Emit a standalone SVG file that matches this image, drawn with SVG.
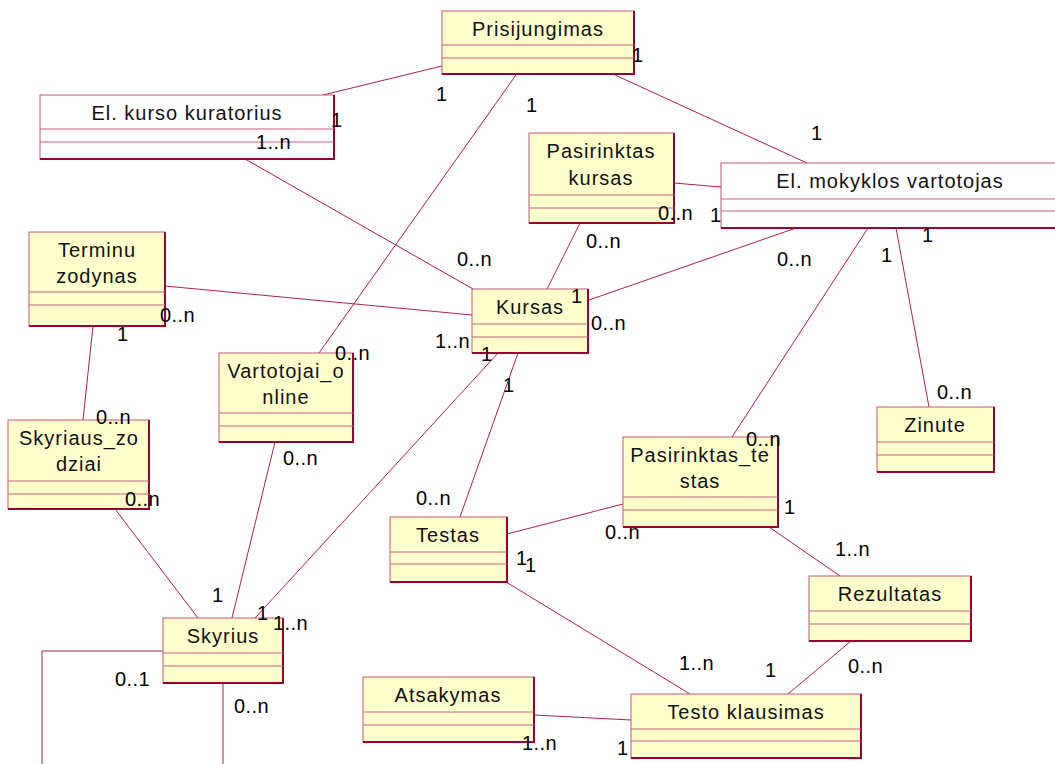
<svg xmlns="http://www.w3.org/2000/svg" width="1055" height="764" viewBox="0 0 1055 764">
  <style>
    .box { fill: #FFFFCC; stroke: #C0587A; stroke-width: 1; }
    .box.plain { fill: #FFFFFF; }
    .edge { fill: none; stroke: #990033; stroke-width: 2; }
    .div { stroke: #C8607E; stroke-width: 1.2; }
    .name { font-family: "Liberation Sans", Arial, sans-serif; font-size: 20px; letter-spacing: 1px; fill: #111; text-anchor: middle; }
    .mult { font-family: "Liberation Sans", Arial, sans-serif; font-size: 20px; letter-spacing: 0.4px; fill: #000; }
    .conn line, .conn polyline { stroke: #A8204E; stroke-width: 1; fill: none; }
  </style>

  <rect width="1055" height="764" fill="#FFFFFF"/>

  <!-- associations -->
  <g id="connectors" class="conn">
    <line x1="442" y1="66" x2="323" y2="95"/>
    <line x1="516" y1="75" x2="319" y2="353"/>
    <line x1="615" y1="75" x2="807" y2="163"/>
    <line x1="245" y1="159" x2="473" y2="289"/>
    <line x1="674" y1="183" x2="721" y2="187"/>
    <line x1="580" y1="223" x2="547" y2="289"/>
    <line x1="796" y1="228" x2="589" y2="300"/>
    <line x1="868" y1="228" x2="732" y2="437"/>
    <line x1="896" y1="228" x2="929" y2="407"/>
    <line x1="165" y1="286" x2="472" y2="315"/>
    <line x1="93" y1="326" x2="83" y2="420"/>
    <line x1="275" y1="442" x2="232" y2="618"/>
    <line x1="115" y1="509" x2="198" y2="618"/>
    <line x1="498" y1="353" x2="255" y2="618"/>
    <line x1="518" y1="353" x2="460" y2="517"/>
    <line x1="507" y1="534" x2="623" y2="504"/>
    <line x1="769" y1="527" x2="840" y2="576"/>
    <line x1="506" y1="582" x2="690" y2="694"/>
    <line x1="851" y1="641" x2="788" y2="694"/>
    <line x1="534" y1="715" x2="631" y2="720"/>
    <polyline points="163,651 42,651 42,770"/>
    <line x1="223" y1="683" x2="223" y2="770"/>
  </g>

  <g id="prisijungimas">
    <rect class="box" x="442" y="11" width="192" height="63"/>
    <polyline class="edge" points="634,11 634,74 442,74"/>
    <line class="div" x1="442" y1="45" x2="634" y2="45"/>
    <line class="div" x1="442" y1="58" x2="634" y2="58"/>
    <text class="name" x="538" y="36">Prisijungimas</text>
  </g>

  <g id="el-kurso-kuratorius">
    <rect class="box plain" x="40" y="95" width="294" height="64"/>
    <polyline class="edge" points="334,95 334,159 40,159"/>
    <line class="div" x1="40" y1="129" x2="334" y2="129"/>
    <line class="div" x1="40" y1="142" x2="334" y2="142"/>
    <text class="name" x="187" y="120">El. kurso kuratorius</text>
  </g>

  <g id="el-mokyklos-vartotojas">
    <rect class="box plain" x="721" y="163" width="338" height="65"/>
    <polyline class="edge" points="1059,163 1059,228 721,228"/>
    <line class="div" x1="721" y1="199" x2="1059" y2="199"/>
    <line class="div" x1="721" y1="211" x2="1059" y2="211"/>
    <text class="name" x="890" y="188">El. mokyklos vartotojas</text>
  </g>

  <g id="pasirinktas-kursas">
    <rect class="box" x="529" y="133" width="145" height="90"/>
    <polyline class="edge" points="674,133 674,223 529,223"/>
    <line class="div" x1="529" y1="195" x2="674" y2="195"/>
    <line class="div" x1="529" y1="208" x2="674" y2="208"/>
    <text class="name" x="601" y="158">Pasirinktas</text>
    <text class="name" x="601" y="185">kursas</text>
  </g>

  <g id="terminu-zodynas">
    <rect class="box" x="29" y="232" width="136" height="94"/>
    <polyline class="edge" points="165,232 165,326 29,326"/>
    <line class="div" x1="29" y1="292" x2="165" y2="292"/>
    <line class="div" x1="29" y1="305" x2="165" y2="305"/>
    <text class="name" x="97" y="257">Terminu</text>
    <text class="name" x="97" y="283">zodynas</text>
  </g>

  <g id="kursas">
    <rect class="box" x="472" y="289" width="116" height="64"/>
    <polyline class="edge" points="588,289 588,353 472,353"/>
    <line class="div" x1="472" y1="324" x2="588" y2="324"/>
    <line class="div" x1="472" y1="337" x2="588" y2="337"/>
    <text class="name" x="530" y="314">Kursas</text>
  </g>

  <g id="vartotojai-online">
    <rect class="box" x="219" y="353" width="134" height="89"/>
    <polyline class="edge" points="353,353 353,442 219,442"/>
    <line class="div" x1="219" y1="413" x2="353" y2="413"/>
    <line class="div" x1="219" y1="426" x2="353" y2="426"/>
    <text class="name" x="286" y="378">Vartotojai_o</text>
    <text class="name" x="286" y="404">nline</text>
  </g>

  <g id="skyriaus-zodziai">
    <rect class="box" x="8" y="420" width="141" height="89"/>
    <polyline class="edge" points="149,420 149,509 8,509"/>
    <line class="div" x1="8" y1="481" x2="149" y2="481"/>
    <line class="div" x1="8" y1="494" x2="149" y2="494"/>
    <text class="name" x="79" y="445">Skyriaus_zo</text>
    <text class="name" x="79" y="471">dziai</text>
  </g>

  <g id="zinute">
    <rect class="box" x="877" y="407" width="117" height="65"/>
    <polyline class="edge" points="994,407 994,472 877,472"/>
    <line class="div" x1="877" y1="442" x2="994" y2="442"/>
    <line class="div" x1="877" y1="455" x2="994" y2="455"/>
    <text class="name" x="935" y="432">Zinute</text>
  </g>

  <g id="pasirinktas-testas">
    <rect class="box" x="623" y="437" width="155" height="90"/>
    <polyline class="edge" points="778,437 778,527 623,527"/>
    <line class="div" x1="623" y1="497" x2="778" y2="497"/>
    <line class="div" x1="623" y1="510" x2="778" y2="510"/>
    <text class="name" x="700" y="462">Pasirinktas_te</text>
    <text class="name" x="700" y="488">stas</text>
  </g>

  <g id="testas">
    <rect class="box" x="390" y="517" width="117" height="65"/>
    <polyline class="edge" points="507,517 507,582 390,582"/>
    <line class="div" x1="390" y1="552" x2="507" y2="552"/>
    <line class="div" x1="390" y1="564" x2="507" y2="564"/>
    <text class="name" x="448" y="542">Testas</text>
  </g>

  <g id="rezultatas">
    <rect class="box" x="809" y="576" width="162" height="65"/>
    <polyline class="edge" points="971,576 971,641 809,641"/>
    <line class="div" x1="809" y1="611" x2="971" y2="611"/>
    <line class="div" x1="809" y1="624" x2="971" y2="624"/>
    <text class="name" x="890" y="601">Rezultatas</text>
  </g>

  <g id="skyrius">
    <rect class="box" x="163" y="618" width="120" height="65"/>
    <polyline class="edge" points="283,618 283,683 163,683"/>
    <line class="div" x1="163" y1="653" x2="283" y2="653"/>
    <line class="div" x1="163" y1="666" x2="283" y2="666"/>
    <text class="name" x="223" y="643">Skyrius</text>
  </g>

  <g id="atsakymas">
    <rect class="box" x="363" y="677" width="171" height="65"/>
    <polyline class="edge" points="534,677 534,742 363,742"/>
    <line class="div" x1="363" y1="712" x2="534" y2="712"/>
    <line class="div" x1="363" y1="725" x2="534" y2="725"/>
    <text class="name" x="448" y="702">Atsakymas</text>
  </g>

  <g id="testo-klausimas">
    <rect class="box" x="631" y="694" width="230" height="64"/>
    <polyline class="edge" points="861,694 861,758 631,758"/>
    <line class="div" x1="631" y1="729" x2="861" y2="729"/>
    <line class="div" x1="631" y1="741" x2="861" y2="741"/>
    <text class="name" x="746" y="719">Testo klausimas</text>
  </g>

  <!-- multiplicities -->
  <g id="multiplicities" class="mult">
    <text x="632" y="62">1</text>
    <text x="436" y="101">1</text>
    <text x="526" y="112">1</text>
    <text x="331" y="127">1</text>
    <text x="256" y="149">1..n</text>
    <text x="811" y="140">1</text>
    <text x="658" y="220">0..n</text>
    <text x="710" y="222">1</text>
    <text x="586" y="248">0..n</text>
    <text x="922" y="242">1</text>
    <text x="881" y="262">1</text>
    <text x="777" y="266">0..n</text>
    <text x="457" y="266">0..n</text>
    <text x="571" y="303">1</text>
    <text x="591" y="330">0..n</text>
    <text x="435" y="348">1..n</text>
    <text x="481" y="361">1</text>
    <text x="503" y="392">1</text>
    <text x="160" y="322">0..n</text>
    <text x="117" y="341">1</text>
    <text x="335" y="360">0..n</text>
    <text x="96" y="424">0..n</text>
    <text x="125" y="506">0..n</text>
    <text x="283" y="465">0..n</text>
    <text x="212" y="602">1</text>
    <text x="257" y="620">1</text>
    <text x="273" y="630">1..n</text>
    <text x="115" y="686">0..1</text>
    <text x="234" y="713">0..n</text>
    <text x="416" y="505">0..n</text>
    <text x="746" y="446">0..n</text>
    <text x="784" y="514">1</text>
    <text x="605" y="539">0..n</text>
    <text x="516" y="565">1</text>
    <text x="525" y="572">1</text>
    <text x="835" y="556">1..n</text>
    <text x="937" y="399">0..n</text>
    <text x="522" y="750">1..n</text>
    <text x="617" y="755">1</text>
    <text x="679" y="670">1..n</text>
    <text x="765" y="677">1</text>
    <text x="848" y="673">0..n</text>
  </g>
</svg>
